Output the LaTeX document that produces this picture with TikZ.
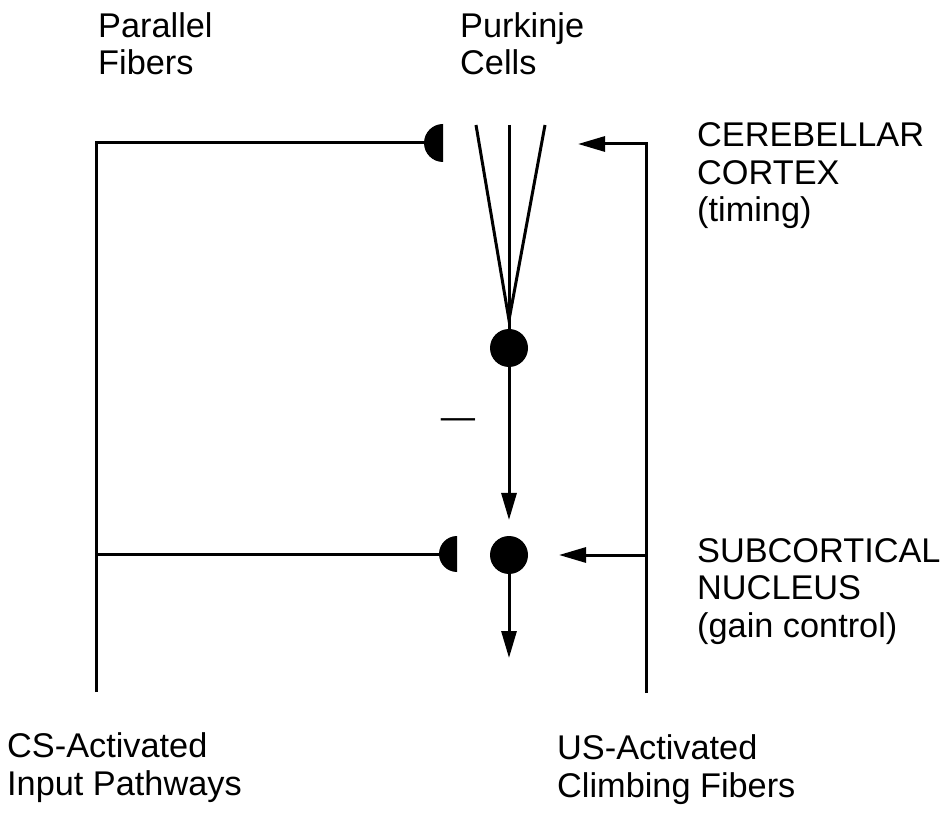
\documentclass[tikz,border=0pt]{standalone}
\usepackage{fontspec}
\setmainfont{Liberation Sans}
\usetikzlibrary{arrows.meta}
\begin{document}
\begin{tikzpicture}[x=1pt,y=1pt,
  wire/.style={line width=3pt, line join=miter},
  arr/.style={wire, -{Triangle[length=27pt,width=15pt]}},
  cell/.style={circle, fill=black, inner sep=0pt, minimum size=38pt},
  lbl/.style={anchor=base west, align=left, inner sep=0pt, font=\fontsize{34.3}{37.5}\selectfont}]
\useasboundingbox (0,0) rectangle (950,812);
% labels (base anchor = baseline of last line)
\node[lbl] (pf) at (98,737) {Parallel\\Fibers};
\node[lbl] (pc) at (460,737) {Purkinje\\Cells};
\node[lbl] (cc) at (697,590) {CEREBELLAR\\CORTEX\\(timing)};
\node[lbl] (sn) at (697,175) {SUBCORTICAL\\NUCLEUS\\(gain control)};
\node[lbl] (cs) at (7,17) {CS-Activated\\Input Pathways};
\node[lbl] (us) at (557,15) {US-Activated\\Climbing Fibers};
\node[lbl, anchor=center] (minus) at (458,388) {—};
% cells
\node[cell] (p) at (509,464) {};
\node[cell] (n) at (509,257) {};
% synapse coordinates
\coordinate (pfsyn) at (424,669);
\coordinate (nsyn) at (439,258);
\fill (pfsyn) ++(19,19) arc(90:270:19) -- cycle;
\fill (nsyn) ++(18,18) arc(90:270:18) -- cycle;
% input pathways
\coordinate (csbot) at (96,120);
\coordinate (cstee) at (96,258);
\draw[wire] (csbot) |- (pfsyn);
\draw[wire] (cstee) -- (nsyn);
% climbing fibers
\coordinate (usbot) at (646,119);
\coordinate (ustee) at (646,257);
\coordinate (pktip) at (578,668);
\coordinate (ntip) at (559,257);
\draw[arr] (usbot) |- (pktip);
\draw[arr] (ustee) -- (ntip);
% Purkinje dendrites
\coordinate (f1) at (476,687);
\coordinate (f2) at (509,687);
\coordinate (f3) at (545,687);
\coordinate (apex) at (509,492);
\draw[wire] (f1) -- (apex) -- (f3);
\draw[wire] (f2) -- (p.north);
\draw[wire] (apex) -- (p.north);
% outputs
\coordinate (ptip) at (509,292);
\coordinate (otip) at (509,154);
\draw[arr] (p.south) -- (ptip);
\draw[arr] (n.south) -- (otip);
\end{tikzpicture}
\end{document}
